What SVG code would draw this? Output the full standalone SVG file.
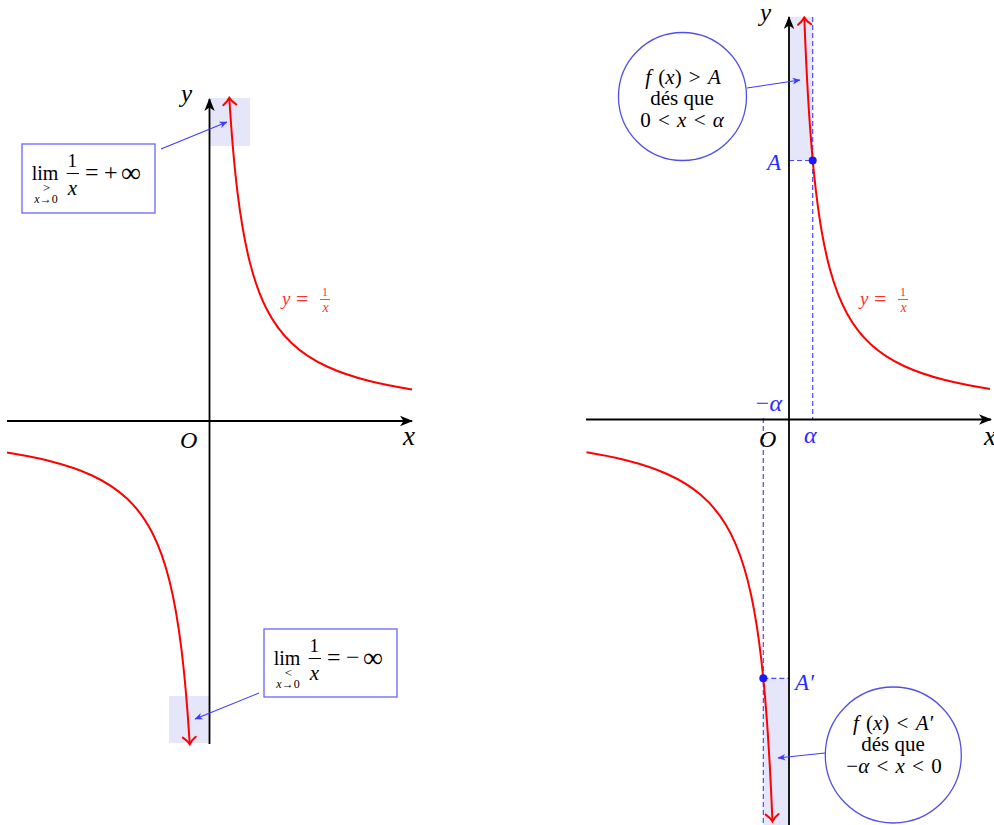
<svg xmlns="http://www.w3.org/2000/svg" width="994" height="825" viewBox="0 0 994 825">
<style>
text{font-family:"Liberation Serif","Times New Roman",serif;fill:#000}
.it{font-style:italic}
.axis{stroke:#000;stroke-width:1.8;fill:none}
.curve{stroke:#ff0000;stroke-width:2;fill:none}
.hl{fill:#e6e6fa;stroke:none}
.dash{stroke:#4a4aff;stroke-width:1.2;stroke-dasharray:5 3;fill:none}
.conn{stroke:#3a3aff;stroke-width:1.1;fill:none}
.box{fill:#fff;stroke:#6464ff;stroke-width:1.3}
.circ{fill:#fff;stroke:#5050e6;stroke-width:1.3}
.red{fill:#ff3030}
.blue{fill:#2a2aff}
.dot{fill:#1a1aff}
</style>
<defs>
<marker id="ax" markerUnits="userSpaceOnUse" viewBox="-14 -7 16 14" markerWidth="16" markerHeight="14" refX="0" refY="0" orient="auto">
<path d="M1,0 L-12,-5.2 L-8.5,0 L-12,5.2 Z" fill="#000"/>
</marker>
<marker id="rt" markerUnits="userSpaceOnUse" viewBox="-10 -9 12 18" markerWidth="12" markerHeight="18" refX="0" refY="0" orient="auto-start-reverse">
<path d="M-7,-6.5 C-4,-2.5 -1.5,-0.8 0,0 C-1.5,0.8 -4,2.5 -7,6.5" fill="none" stroke="#ff0000" stroke-width="2" stroke-linecap="round"/>
</marker>
<marker id="bl" markerUnits="userSpaceOnUse" viewBox="-9 -5 10 10" markerWidth="10" markerHeight="10" refX="0" refY="0" orient="auto">
<path d="M0.5,0 L-7.5,-3.3 L-5.2,0 L-7.5,3.3 Z" fill="#3a3aff"/>
</marker>
</defs>

<!-- highlight regions -->
<g id="highlights">
<rect class="hl" x="210" y="98" width="40" height="48"/>
<rect class="hl" x="169" y="696" width="40" height="47"/>
<rect class="hl" x="789" y="17" width="23.7" height="143.5"/>
<rect class="hl" x="763.3" y="678.3" width="25.7" height="147"/>
</g>

<!-- dashed guides -->
<g id="guides">
<line class="dash" x1="812.7" y1="17" x2="812.7" y2="420"/>
<line class="dash" x1="763.3" y1="418" x2="763.3" y2="825"/>
<line class="dash" x1="789" y1="160.5" x2="812.7" y2="160.5"/>
<line class="dash" x1="763.3" y1="678.3" x2="789" y2="678.3"/>
</g>

<!-- axes -->
<g id="axes">
<line class="axis" x1="7" y1="421" x2="412" y2="421" marker-end="url(#ax)"/>
<line class="axis" x1="209.5" y1="744" x2="209.5" y2="99" marker-end="url(#ax)"/>
<line class="axis" x1="586" y1="419.5" x2="991" y2="419.5" marker-end="url(#ax)"/>
<line class="axis" x1="789" y1="825" x2="789" y2="17" marker-end="url(#ax)"/>
<text class="it" x="181" y="102" font-size="25">y</text>
<text class="it" x="403" y="445" font-size="27">x</text>
<text class="it" x="180" y="448" font-size="24">O</text>
<text class="it" x="760" y="21" font-size="25">y</text>
<text class="it" x="984" y="445" font-size="27">x</text>
<text class="it" x="759" y="447" font-size="24">O</text>
</g>

<!-- curves -->
<g id="curves">
<path class="curve" marker-start="url(#rt)" transform="translate(209.5,421)" d="M19.8,-323.23 C22.53,-278.61 25.27,-250.88 28,-228.57 C32,-195.92 36,-176 40,-160 C45.67,-137.33 51.33,-123.44 57,-112.28 C65.33,-95.86 73.67,-85.98 82,-78.05 C94,-66.63 106,-59.76 118,-54.24 C132,-47.81 146,-43.5 160,-40 C174.17,-36.46 188.33,-33.81 202.5,-31.6"/>
<path class="curve" marker-start="url(#rt)" transform="translate(209.5,421) rotate(180)" d="M19.8,-323.23 C22.53,-278.61 25.27,-250.88 28,-228.57 C32,-195.92 36,-176 40,-160 C45.67,-137.33 51.33,-123.44 57,-112.28 C65.33,-95.86 73.67,-85.98 82,-78.05 C94,-66.63 106,-59.76 118,-54.24 C132,-47.81 146,-43.5 160,-40 C174.17,-36.46 188.33,-33.81 202.5,-31.6"/>
<path class="curve" marker-start="url(#rt)" transform="translate(789,419.5)" d="M15.3,-401.96 C17.2,-352.04 19.1,-319.36 21,-292.86 C23.67,-255.67 26.33,-231.57 29,-212.07 C33,-182.82 37,-164.64 41,-150 C46.67,-129.27 52.33,-116.39 58,-106.03 C66,-91.41 74,-82.32 82,-75 C93,-64.94 104,-58.59 115,-53.48 C128.33,-47.28 141.67,-43.09 155,-39.68 C170.33,-35.75 185.67,-32.93 201,-30.6"/>
<path class="curve" marker-start="url(#rt)" transform="translate(789,419.5) rotate(180)" d="M16.55,-401.81 C18.7,-349.61 20.85,-316.16 23,-289.13 C26,-251.42 29,-227.29 32,-207.81 C36.33,-179.67 40.67,-162.01 45,-147.78 C51,-128.08 57,-115.61 63,-105.56 C71.33,-91.6 79.67,-82.73 88,-75.57 C99.33,-65.84 110.67,-59.57 122,-54.51 C135.33,-48.55 148.67,-44.43 162,-41.05 C175.5,-37.63 189,-35.03 202.5,-32.84"/>
<!-- curve labels -->
<text class="it red" x="282" y="305" font-size="19">y</text>
<text class="red" x="296" y="306" font-size="22">=</text>
<text class="red" x="325" y="296" font-size="12" text-anchor="middle">1</text>
<line x1="320" y1="299.5" x2="330" y2="299.5" stroke="#ff3030" stroke-width="0.9"/>
<text class="it red" x="325.5" y="311.5" font-size="14" text-anchor="middle">x</text>
<text class="it red" x="860" y="305" font-size="19">y</text>
<text class="red" x="874" y="306" font-size="22">=</text>
<text class="red" x="903" y="296" font-size="12" text-anchor="middle">1</text>
<line x1="898" y1="299.5" x2="908" y2="299.5" stroke="#ff3030" stroke-width="0.9"/>
<text class="it red" x="903.5" y="311.5" font-size="14" text-anchor="middle">x</text>
</g>

<!-- points and labels -->
<g id="points">
<circle class="dot" cx="812.7" cy="160.5" r="4"/>
<circle class="dot" cx="763.3" cy="678.3" r="4"/>
<text class="it blue" x="781" y="170" font-size="23" text-anchor="end">A</text>
<text class="it blue" x="795" y="690" font-size="23">A′</text>
<text class="blue" x="782" y="411" font-size="24" text-anchor="end">−<tspan class="it">α</tspan></text>
<text class="it blue" x="804" y="443" font-size="24">α</text>
</g>

<!-- node: limit at 0+ -->
<g id="limit-plus">
<rect class="box" x="22" y="144" width="133" height="69"/>
<text x="31.7" y="180" font-size="20">lim</text>
<text x="46.5" y="192" font-size="13" text-anchor="middle">&gt;</text>
<text x="46" y="203" font-size="12" text-anchor="middle"><tspan class="it">x</tspan>→0</text>
<text x="72.2" y="167" font-size="19" text-anchor="middle">1</text>
<line x1="66.7" y1="173.5" x2="79" y2="173.5" stroke="#000" stroke-width="1"/>
<text class="it" x="72.5" y="195" font-size="21" text-anchor="middle">x</text>
<text y="180" font-size="24"><tspan x="85">=</tspan><tspan x="104">+</tspan></text>
<text x="121" y="182" font-size="28">∞</text>
</g>

<!-- node: limit at 0- -->
<g id="limit-minus">
<rect class="box" x="264" y="629" width="133" height="68"/>
<text x="273.7" y="665" font-size="20">lim</text>
<text x="288.5" y="677" font-size="13" text-anchor="middle">&lt;</text>
<text x="288" y="688" font-size="12" text-anchor="middle"><tspan class="it">x</tspan>→0</text>
<text x="314.2" y="652" font-size="19" text-anchor="middle">1</text>
<line x1="308.7" y1="658.5" x2="321" y2="658.5" stroke="#000" stroke-width="1"/>
<text class="it" x="314.5" y="680" font-size="21" text-anchor="middle">x</text>
<text y="665" font-size="24"><tspan x="327">=</tspan><tspan x="346">−</tspan></text>
<text x="363" y="667" font-size="28">∞</text>
</g>

<!-- node: f(x) > A -->
<g id="cond-top">
<circle class="circ" cx="682.5" cy="96.5" r="64"/>
<text x="683" y="84" font-size="21" text-anchor="middle" word-spacing="2"><tspan class="it">f</tspan> (<tspan class="it">x</tspan>) &gt; <tspan class="it">A</tspan></text>
<text x="682" y="105" font-size="21" text-anchor="middle">dés que</text>
<text x="682" y="127" font-size="21" text-anchor="middle" word-spacing="2">0 &lt; <tspan class="it">x</tspan> &lt; <tspan class="it">α</tspan></text>
</g>

<!-- node: f(x) < A' -->
<g id="cond-bottom">
<circle class="circ" cx="893.3" cy="755" r="68"/>
<text x="893" y="730" font-size="21" text-anchor="middle" word-spacing="2"><tspan class="it">f</tspan> (<tspan class="it">x</tspan>) &lt; <tspan class="it">A′</tspan></text>
<text x="893" y="751" font-size="21" text-anchor="middle">dés que</text>
<text x="894" y="773" font-size="21" text-anchor="middle" word-spacing="2">−<tspan class="it">α</tspan> &lt; <tspan class="it">x</tspan> &lt; 0</text>
</g>

<!-- connectors -->
<g id="connectors">
<line class="conn" x1="161" y1="149" x2="227" y2="122" marker-end="url(#bl)"/>
<line class="conn" x1="259" y1="693" x2="195" y2="719" marker-end="url(#bl)"/>
<line class="conn" x1="747" y1="88" x2="800" y2="80" marker-end="url(#bl)"/>
<line class="conn" x1="825" y1="753" x2="778" y2="758" marker-end="url(#bl)"/>
</g>
</svg>
